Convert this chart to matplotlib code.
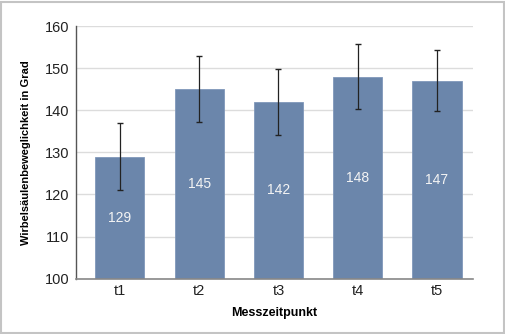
import matplotlib
matplotlib.use("Agg")
import matplotlib.pyplot as plt
from matplotlib.patches import Rectangle
from matplotlib import font_manager

categories = ["t1", "t2", "t3", "t4", "t5"]
values = [129, 145, 142, 148, 147]
errors = [7.9, 7.8, 7.9, 7.7, 7.3]
yticks = [100, 110, 120, 130, 140, 150, 160]

names = {f.name for f in font_manager.fontManager.ttflist}
fam = "Liberation Sans Narrow" if "Liberation Sans Narrow" in names else "Liberation Sans"
plt.rcParams["font.family"] = [fam, "DejaVu Sans"]

W, H = 506, 334
fig = plt.figure(figsize=(W / 100, H / 100), dpi=100)
fig.patches.append(Rectangle((1.5 / W, 1.5 / H), 1 - 3.5 / W, 1 - 3.5 / H,
                             transform=fig.transFigure, fill=False,
                             edgecolor="#c4c4c4", linewidth=1.5))

ax = fig.add_axes([76.3 / W, 1 - 278.7 / H, (472.7 - 76.3) / W, (278.7 - 26) / H])
x = range(len(categories))
ax.bar(x, values, width=0.62, color="#6b86ab",
       edgecolor="#8098ba", linewidth=0.6, zorder=2)
ax.errorbar(x, values, yerr=errors, fmt="none", ecolor="#222222",
            elinewidth=0.9, capsize=2, capthick=1.0, zorder=3)
for xi, v in zip(x, values):
    ax.text(xi, (100 + v) / 2, str(v), ha="center", va="center",
            color="#f4f4f4", fontsize=10, zorder=4)

ax.set_ylim(100, 160)
ax.set_xlim(-0.55, 4.45)
ax.set_yticks(yticks)
ax.set_xticks(list(x))
ax.set_xticklabels(categories)
ax.yaxis.grid(True, color="#dcdcdc", linewidth=1.0, zorder=0)
ax.set_axisbelow(True)
for s in ["top", "right"]:
    ax.spines[s].set_visible(False)
ax.spines["left"].set_color("#555555")
ax.spines["bottom"].set_color("#888888")
ax.spines["left"].set_linewidth(1.0)
ax.spines["bottom"].set_linewidth(1.2)
ax.tick_params(axis="both", length=0, labelsize=10.5, colors="#222222")
ax.tick_params(axis="y", pad=5)
ax.tick_params(axis="x", pad=4)
ax.set_xlabel("Messzeitpunkt", fontsize=9, fontweight="bold", labelpad=6)
ax.set_ylabel("Wirbelsäulenbeweglichkeit in Grad", fontsize=8,
              fontweight="bold", labelpad=10)

fig.savefig("out.png", dpi=100)
